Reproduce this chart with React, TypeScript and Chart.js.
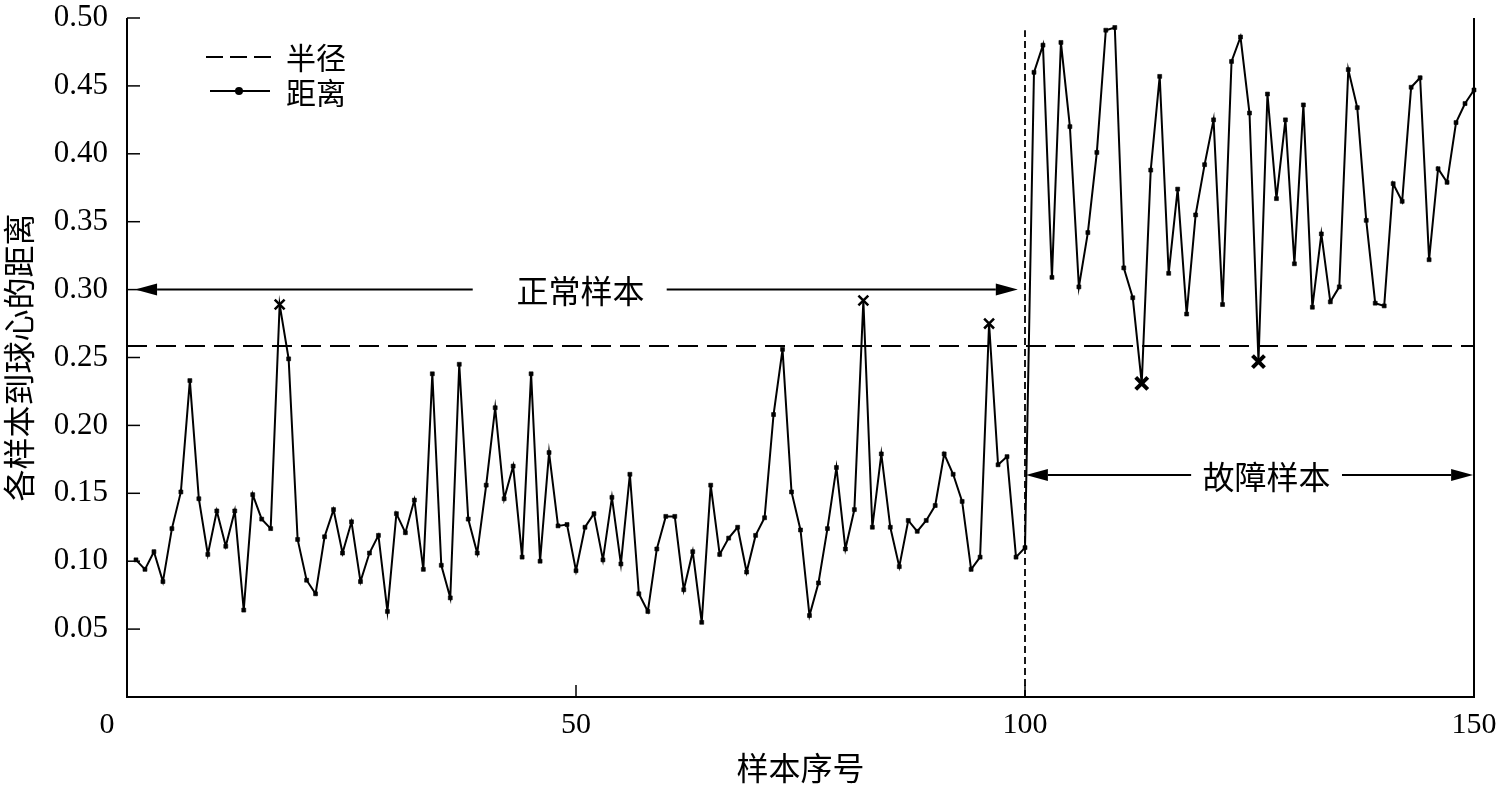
import React, { useEffect, useRef } from "react";
import { Chart, registerables } from "chart.js";

Chart.register(...registerables);

// ---- data ----
const normalDistances = [
  0.101, 0.094, 0.107, 0.085, 0.124, 0.151, 0.233, 0.146, 0.105, 0.137,
  0.111, 0.137, 0.064, 0.149, 0.131, 0.124, 0.289, 0.249, 0.116, 0.086,
  0.076, 0.118, 0.138, 0.106, 0.129, 0.085, 0.106, 0.119, 0.063, 0.135,
  0.121, 0.145, 0.094, 0.238, 0.097, 0.073, 0.245, 0.131, 0.106, 0.156,
  0.213, 0.146, 0.170, 0.103, 0.238, 0.100, 0.180, 0.126, 0.127, 0.093,
  0.125, 0.135, 0.101, 0.147, 0.098, 0.164, 0.076, 0.063, 0.109, 0.133,
  0.133, 0.079, 0.107, 0.055, 0.156, 0.105, 0.117, 0.125, 0.092, 0.119,
  0.132, 0.208, 0.256, 0.151, 0.123, 0.060, 0.084, 0.124, 0.169, 0.109,
  0.138, 0.292, 0.125, 0.179, 0.125, 0.096, 0.130, 0.122, 0.130, 0.141,
  0.179, 0.164, 0.144, 0.094, 0.103, 0.275, 0.171, 0.177, 0.103, 0.110,
];
const faultDistances = [
  0.460, 0.480, 0.309, 0.482, 0.420, 0.302, 0.342, 0.401, 0.491, 0.493,
  0.316, 0.294, 0.231, 0.388, 0.457, 0.312, 0.374, 0.282, 0.355, 0.392,
  0.425, 0.289, 0.468, 0.486, 0.430, 0.247, 0.444, 0.367, 0.425, 0.319,
  0.436, 0.287, 0.341, 0.291, 0.302, 0.462, 0.434, 0.351, 0.290, 0.288,
  0.378, 0.365, 0.449, 0.456, 0.322, 0.389, 0.379, 0.423, 0.437, 0.447,
];
const allDistances = [...normalDistances, ...faultDistances];
const sampleNumbers = allDistances.map((_, i) => i + 1);
const radiusValue = 0.2585;
const boundarySample = 100;
const boundaryTop = 0.491;
const falseAlarmSamples = [17, 82, 96];
const missedSamples = [113, 126];
const xTickLabels = [0, 50, 100, 150];
const yTickValues = [0.05, 0.1, 0.15, 0.2, 0.25, 0.3, 0.35, 0.4, 0.45, 0.5];
const xMax = 150;
const yMax = 0.5;

const legendLabels = ["半径", "距离"];
const xTitle = "样本序号";
const yTitle = "各样本到球心的距离";
const normalLabel = { text: "正常样本", x: 50.5, y: 0.299, leftFrom: 38.5, leftTo: 0.9, rightFrom: 60.1, rightTo: 99.2, arrowY: 0.300 };
const faultLabel = { text: "故障样本", x: 126.9, y: 0.162, leftFrom: 118.5, leftTo: 100.1, rightFrom: 135.3, rightTo: 149.9, arrowY: 0.1635 };

const CJK = '"Noto Sans CJK SC", "Noto Sans CJK JP", sans-serif';
const SERIF = '"Liberation Serif", "Times New Roman", serif';

function arrow(ctx: CanvasRenderingContext2D, x0: number, x1: number, y: number) {
  const dir = Math.sign(x1 - x0);
  const headLen = 22;
  const headHalf = 6;
  ctx.beginPath();
  ctx.moveTo(x0, y);
  ctx.lineTo(x1 - dir * headLen, y);
  ctx.lineWidth = 2;
  ctx.stroke();
  ctx.beginPath();
  ctx.moveTo(x1, y);
  ctx.lineTo(x1 - dir * headLen, y - headHalf);
  ctx.lineTo(x1 - dir * headLen, y + headHalf);
  ctx.closePath();
  ctx.fill();
}

const decorPlugin = {
  id: "decor",
  afterDraw(chart: any) {
    const { ctx, chartArea: ca, scales } = chart;
    const xs = scales.x;
    const ys = scales.y;
    ctx.save();
    ctx.strokeStyle = "#000";
    ctx.fillStyle = "#000";
    ctx.setLineDash([]);
    // axes frame (left, bottom, right)
    ctx.lineWidth = 2;
    ctx.beginPath();
    ctx.moveTo(ca.left, ca.top);
    ctx.lineTo(ca.left, ca.bottom);
    ctx.lineTo(ca.right, ca.bottom);
    ctx.lineTo(ca.right, ca.top);
    ctx.stroke();
    // inward ticks
    ctx.lineWidth = 1.5;
    yTickValues.forEach((v) => {
      const py = ys.getPixelForValue(v);
      ctx.beginPath();
      ctx.moveTo(ca.left, py);
      ctx.lineTo(ca.left + 13, py);
      ctx.stroke();
    });
    xTickLabels.forEach((v) => {
      if (v === 0 || v === xMax) return;
      const px = xs.getPixelForValue(v);
      ctx.beginPath();
      ctx.moveTo(px, ca.bottom);
      ctx.lineTo(px, ca.bottom - 12);
      ctx.stroke();
    });
    // x tick labels
    ctx.font = `30px ${SERIF}`;
    ctx.textAlign = "center";
    ctx.textBaseline = "middle";
    xTickLabels.forEach((v) => {
      let px = xs.getPixelForValue(v);
      if (v === 0) px -= 20;
      ctx.fillText(String(v), px, ca.bottom + 28);
    });
    // legend
    const lx = ca.left + 79;
    ctx.lineWidth = 2;
    ctx.setLineDash([17, 7]);
    ctx.beginPath();
    ctx.moveTo(lx, ca.top + 39);
    ctx.lineTo(lx + 72, ca.top + 39);
    ctx.stroke();
    ctx.setLineDash([]);
    ctx.beginPath();
    ctx.moveTo(lx + 4, ca.top + 73);
    ctx.lineTo(lx + 64, ca.top + 73);
    ctx.stroke();
    ctx.beginPath();
    ctx.arc(lx + 33, ca.top + 73, 4, 0, Math.PI * 2);
    ctx.fill();
    ctx.font = `30px ${CJK}`;
    ctx.textAlign = "left";
    ctx.textBaseline = "middle";
    ctx.fillText(legendLabels[0], lx + 80, ca.top + 40);
    ctx.fillText(legendLabels[1], lx + 80, ca.top + 75);
    // annotations
    ctx.font = `32px ${CJK}`;
    ctx.textAlign = "center";
    [normalLabel, faultLabel].forEach((a) => {
      ctx.fillText(a.text, xs.getPixelForValue(a.x), ys.getPixelForValue(a.y));
      const ay = ys.getPixelForValue(a.arrowY);
      arrow(ctx, xs.getPixelForValue(a.leftFrom), xs.getPixelForValue(a.leftTo), ay);
      arrow(ctx, xs.getPixelForValue(a.rightFrom), xs.getPixelForValue(a.rightTo), ay);
    });
    ctx.restore();
  },
};

function isMissed(n: number) {
  return missedSamples.includes(n);
}
function isFalseAlarm(n: number) {
  return falseAlarmSamples.includes(n);
}

export default function App() {
  const ref = useRef<HTMLCanvasElement | null>(null);
  useEffect(() => {
    if (!ref.current) return;
    const chart = new Chart(ref.current, {
      type: "line",
      data: {
        datasets: [
          {
            label: "距离",
            data: sampleNumbers.map((n, i) => ({ x: n, y: allDistances[i] })),
            borderColor: "#000",
            backgroundColor: "#000",
            borderWidth: 2,
            tension: 0,
            clip: false,
            pointStyle: (c: any) => (isMissed(c.raw?.x) || isFalseAlarm(c.raw?.x) ? "crossRot" : "rect"),
            pointRadius: (c: any) => (isMissed(c.raw?.x) ? 8.5 : isFalseAlarm(c.raw?.x) ? 7 : 2.8),
            pointBorderWidth: (c: any) => (isMissed(c.raw?.x) ? 4 : isFalseAlarm(c.raw?.x) ? 2.5 : 0.6),
            pointBackgroundColor: "#000",
            pointBorderColor: "#000",
          } as any,
          {
            label: "半径",
            data: [
              { x: 0, y: radiusValue },
              { x: xMax, y: radiusValue },
            ],
            borderColor: "#000",
            borderWidth: 2,
            borderDash: [20, 9],
            pointRadius: 0,
          },
          {
            label: "boundary",
            data: [
              { x: boundarySample, y: 0 },
              { x: boundarySample, y: boundaryTop },
            ],
            borderColor: "#000",
            borderWidth: 1.8,
            borderDash: [7, 4],
            pointRadius: 0,
          },
        ],
      },
      options: {
        responsive: false,
        animation: false,
        devicePixelRatio: 1,
        layout: { padding: { top: 18, right: 30, left: 0, bottom: 0 } },
        plugins: { legend: { display: false }, tooltip: { enabled: false } },
        scales: {
          x: {
            type: "linear",
            min: 0,
            max: xMax,
            afterFit: (s: any) => {
              s.height = 91;
              s.paddingLeft = 0;
              s.paddingRight = 0;
            },
            grid: { display: false, drawTicks: false },
            border: { display: false },
            ticks: { display: false, stepSize: 50 },
            title: {
              display: true,
              text: xTitle,
              color: "#000",
              font: { family: CJK, size: 32 },
              padding: { top: 0, bottom: 1 },
            },
          },
          y: {
            type: "linear",
            min: 0,
            max: yMax,
            afterFit: (s: any) => {
              s.width = 127;
              s.paddingTop = 0;
              s.paddingBottom = 0;
            },
            grid: { display: false, drawTicks: false },
            border: { display: false },
            ticks: {
              stepSize: 0.05,
              padding: 19,
              color: "#000",
              font: { family: SERIF, size: 31 },
              callback: (v: any) => (Math.abs(v) < 1e-9 ? "" : Number(v).toFixed(2)),
            },
            title: {
              display: true,
              text: yTitle,
              color: "#000",
              font: { family: CJK, size: 32 },
              padding: { top: 0, bottom: 0 },
            },
          },
        },
      },
      plugins: [decorPlugin],
    });
    return () => chart.destroy();
  }, []);
  return (
    <div style={{ position: "absolute", left: 0, top: 0, width: 1504, height: 788, background: "#fff" }}>
      <canvas ref={ref} width={1504} height={788} style={{ width: 1504, height: 788, display: "block" }} />
    </div>
  );
}
